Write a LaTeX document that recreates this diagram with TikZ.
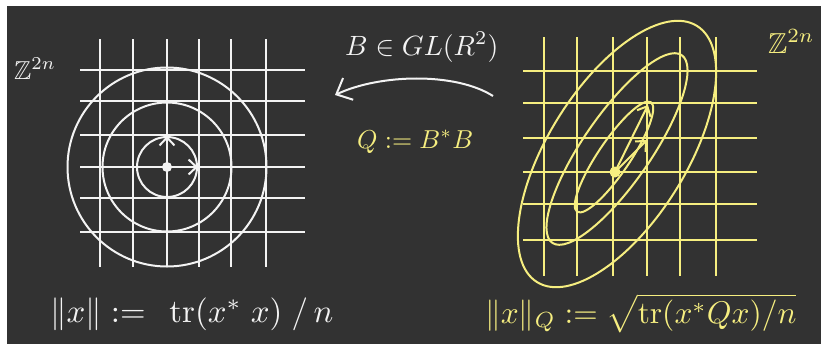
\documentclass[tikz,border=0pt]{standalone}
\usepackage{amssymb}
\usepackage{graphicx}
\usetikzlibrary{arrows.meta}
\definecolor{board}{RGB}{50,50,50}
\definecolor{chalkw}{RGB}{243,243,243}
\definecolor{chalky}{RGB}{246,238,128}
\begin{document}
\begin{tikzpicture}[x=1bp,y=-1bp,
  gline/.style={line width=2bp},
  curve/.style={line width=2bp},
  tip/.style={-{Straight Barb[length=8bp,width=15bp]}},
  bigtip/.style={-{Straight Barb[length=13bp,width=24bp]}},
  lbl/.style={inner sep=0pt, anchor=base west},
]
\useasboundingbox (0,0) rectangle (821,344);
\fill[white] (0,0) rectangle (821,344);
\fill[board] (7,6) rectangle (821,344);

% ---------- left lattice ----------
\begin{scope}[draw=chalkw, fill=chalkw]
\foreach \x in {100,133,167,199,231,266} \draw[gline] (\x,39) -- (\x,267);
\foreach \y in {70,101,135,167,198,232} \draw[gline] (80,\y) -- (305,\y);
\coordinate (L0) at (167,167);
\coordinate (Lu) at (167,136);
\coordinate (Lr) at (198,167);
\draw[curve] (L0) circle (30);
\draw[curve] (L0) circle (64.5);
\draw[curve] (L0) circle (99.5);
\draw[curve,tip] (L0) -- (Lu);
\draw[curve,tip] (L0) -- (Lr);
\fill (L0) circle (5);
\end{scope}
\node[lbl, text=chalkw] (zl) at (14,79) {\scalebox{2.6}{$\mathbb{Z}^{2n}$}};
\node[lbl, text=chalkw] (normL) at (50,322) {\scalebox{3.3}{$\|x\| \mathrel{:=}\;\, \mathrm{tr}(x^{*}\;x)\;/\,n$}};

% ---------- middle ----------
\node[lbl, text=chalkw] (bgl) at (345,55) {\scalebox{2.8}{$B \in GL(R^{2})$}};
\coordinate (aS) at (493,96);
\coordinate (aE) at (335,95);
\draw[chalkw, curve, bigtip] (aS) .. controls (455,72) and (380,74) .. (aE);
\node[lbl, text=chalky] (qdef) at (357,148) {\scalebox{2.6}{$Q := B^{*}B$}};

% ---------- right lattice ----------
\begin{scope}[draw=chalky, fill=chalky]
\foreach \x in {544,577,613,647,680,716} \draw[gline] (\x,37) -- (\x,276);
\foreach \y in {71,103,138,172,204,240} \draw[gline] (523,\y) -- (757,\y);
\coordinate (R0) at (615,172);
\coordinate (Ra) at (647,140);
\coordinate (Rb) at (648,105);
\draw[curve, rotate around={56:(614,157)}] (614,157) ellipse [x radius=66, y radius=16];
\draw[curve, rotate around={55.4:(617,149)}] (617,149) ellipse [x radius=114, y radius=34];
\draw[curve, rotate around={58:(617,154)}] (617,154) ellipse [x radius=151, y radius=69];
\draw[curve,tip] (R0) -- (Ra);
\draw[curve,tip] (R0) -- (Rb);
\fill (R0) circle (5.5);
\end{scope}
\node[lbl, text=chalky] (zr) at (768,53) {\scalebox{2.9}{$\mathbb{Z}^{2n}$}};
\node[lbl, text=chalky] (normR) at (485,323) {\scalebox{3.15}{$\|x\|_{Q} \mathrel{:=} \sqrt{\mathrm{tr}(x^{*}Qx)/n}$}};
\end{tikzpicture}
\end{document}
